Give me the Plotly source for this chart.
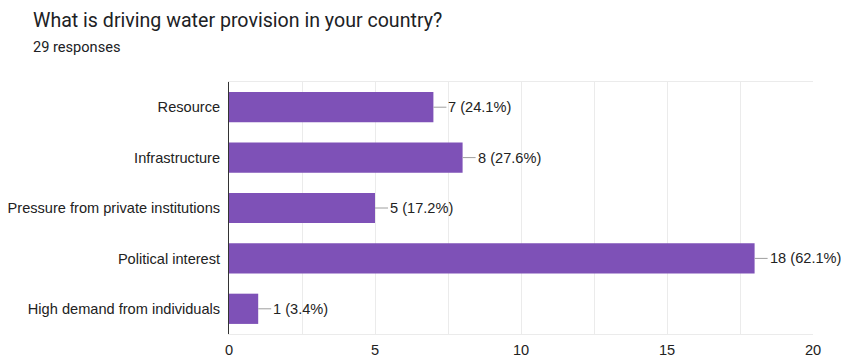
import plotly.graph_objects as go

# Survey answers (top to bottom) and response counts
categories = [
    "Resource",
    "Infrastructure",
    "Pressure from private institutions",
    "Political interest",
    "High demand from individuals",
]
counts = [7, 8, 5, 18, 1]
total_responses = 29
x_ticks = [0, 5, 10, 15, 20]

W, H = 841, 356
ML, MR, MT, MB = 229, 28, 82, 22
plot_w = W - ML - MR
plot_h = H - MT - MB

bar_color = "#7e51b7"
label_font = dict(family="Liberation Sans, Arial, sans-serif", size=14.6, color="#222222")
head_font = "Roboto, Arial, sans-serif"


def px_to_paper(px, py):
    """Convert page pixel coordinates to paper coordinates of the plot area."""
    return (px - ML) / plot_w, 1 - (py - MT) / plot_h


fig = go.Figure(
    go.Bar(
        x=counts,
        y=categories,
        orientation="h",
        marker=dict(color=bar_color, line=dict(width=0)),
        hoverinfo="skip",
    )
)

# Value labels joined to the bar ends by a short grey leader
for cat, n in zip(categories, counts):
    pct = 100 * n / total_responses
    fig.add_annotation(
        x=n, y=cat, xref="x", yref="y",
        text=f"{n} ({pct:.1f}%)",
        showarrow=True, arrowhead=0, arrowwidth=1, arrowcolor="#9e9e9e",
        ax=13, ay=0, xanchor="left", yanchor="middle",
        font=label_font, standoff=0, startstandoff=0,
    )

# Heading and response count
tx, ty = px_to_paper(31, 21)
sx, sy = px_to_paper(31, 47)
fig.add_annotation(
    x=tx, y=ty, xref="paper", yref="paper",
    text="What is driving water provision in your country?",
    showarrow=False, xanchor="left", yanchor="middle",
    font=dict(family=head_font, size=19.6, color="#202124"),
)
fig.add_annotation(
    x=sx, y=sy, xref="paper", yref="paper",
    text=f"{total_responses} responses",
    showarrow=False, xanchor="left", yanchor="middle",
    font=dict(family=head_font, size=14.6, color="#202124"),
)

fig.update_layout(
    width=W, height=H,
    margin=dict(l=ML, r=MR, t=MT, b=MB, autoexpand=False),
    paper_bgcolor="white", plot_bgcolor="white",
    bargap=0.4,
    showlegend=False,
    xaxis=dict(
        range=[0, 20],
        tickvals=x_ticks,
        ticktext=[str(t) for t in x_ticks],
        showgrid=True, gridcolor="#ebebeb", gridwidth=1,
        minor=dict(dtick=2.5, tick0=0, showgrid=True, gridcolor="#ebebeb", gridwidth=1),
        zeroline=False,
        showline=True, linecolor="#ebebeb", linewidth=1, mirror=True,
        ticks="", tickfont=label_font, ticklabelstandoff=2,
        automargin=False,
        fixedrange=True,
    ),
    yaxis=dict(
        categoryorder="array",
        categoryarray=categories[::-1],
        showgrid=False, zeroline=False,
        showline=True, linecolor="#333333", linewidth=1,
        ticks="", tickfont=label_font, ticklabelstandoff=5,
        automargin=False,
        fixedrange=True,
    ),
)

fig.write_html("out.html")
